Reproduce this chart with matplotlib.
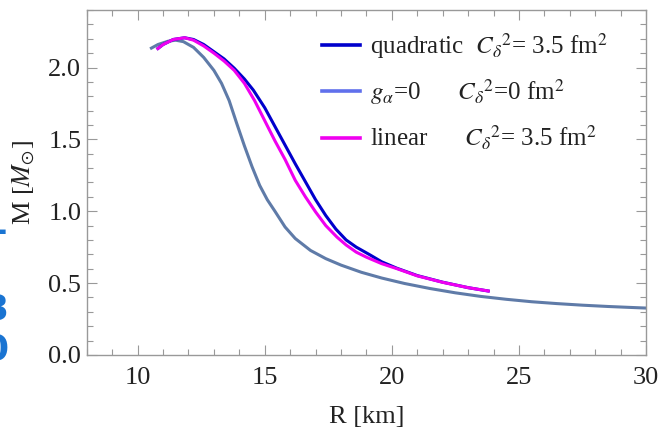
import matplotlib
matplotlib.use("Agg")
import matplotlib.pyplot as plt
from matplotlib.lines import Line2D
from matplotlib.ticker import MultipleLocator, FormatStrFormatter

plt.rcParams['font.family'] = ['Liberation Serif', 'DejaVu Serif']
plt.rcParams['mathtext.fontset'] = 'stix'

# g_alpha = 0, C_delta^2 = 0
R_g = [10.49, 10.8, 11.2, 11.5, 11.8, 12.2, 12.6, 13.0, 13.3, 13.6, 13.9, 14.2, 14.5,
       14.8, 15.1, 15.4, 15.8, 16.2, 16.8, 17.4, 18.0, 18.8, 19.6, 20.5, 21.5, 22.5,
       23.5, 24.5, 25.5, 26.5, 27.5, 28.5, 29.3, 30.0]
M_g = [2.13, 2.16, 2.183, 2.19, 2.18, 2.14, 2.07, 1.98, 1.89, 1.77, 1.61, 1.455, 1.31,
       1.18, 1.08, 1.0, 0.89, 0.81, 0.727, 0.67, 0.625, 0.575, 0.535, 0.497, 0.462, 0.432,
       0.407, 0.387, 0.37, 0.357, 0.346, 0.337, 0.331, 0.326]

# quadratic, C_delta^2 = 3.5 fm^2
R_q = [10.75, 11.0, 11.4, 11.85, 12.2, 12.6, 13.0, 13.4, 13.8, 14.2, 14.55, 15.0, 15.4,
       15.8, 16.2, 16.6, 17.0, 17.4, 17.8, 18.2, 18.6, 19.15, 19.6, 20.2, 21.0, 22.0,
       23.0, 23.85]
M_q = [2.126, 2.16, 2.195, 2.207, 2.195, 2.16, 2.11, 2.06, 1.995, 1.92, 1.843, 1.72,
       1.59, 1.46, 1.33, 1.205, 1.08, 0.97, 0.875, 0.80, 0.75, 0.695, 0.648, 0.603,
       0.552, 0.506, 0.468, 0.443]

# linear, C_delta^2 = 3.5 fm^2
R_l = [10.75, 11.0, 11.4, 11.85, 12.2, 12.6, 13.0, 13.4, 13.8, 14.2, 14.6, 15.0, 15.4,
       15.8, 16.2, 16.6, 17.0, 17.4, 17.84, 18.2, 18.6, 19.0, 19.6, 20.2, 21.0, 22.0,
       23.0, 23.85]
M_l = [2.126, 2.16, 2.195, 2.207, 2.19, 2.15, 2.10, 2.045, 1.98, 1.89, 1.77, 1.63,
       1.49, 1.36, 1.215, 1.10, 0.995, 0.90, 0.82, 0.765, 0.715, 0.68, 0.635, 0.60,
       0.55, 0.505, 0.468, 0.443]

labels = [r"quadratic  $C_\delta{}^2$= 3.5 fm$^2$",
          r"$g_\alpha$=0      $C_\delta{}^2$=0 fm$^2$",
          r"linear      $C_\delta{}^2$= 3.5 fm$^2$"]

c_q = '#0000cc'
c_g = '#5f7ba8'
c_g_leg = '#6070ec'
c_l = '#f000f0'

fig = plt.figure(figsize=(6.64, 4.36), dpi=100)
ax = fig.add_axes([0.1307, 0.186, 0.8423, 0.791])

kw = dict(lw=2.2, solid_joinstyle='round', solid_capstyle='butt')
ax.plot(R_g, M_g, color=c_g, **kw)
ax.plot(R_q, M_q, color=c_q, **kw)
ax.plot(R_l, M_l, color=c_l, **kw)

ax.set_xlim(8, 30)
ax.set_ylim(0, 2.4)
ax.xaxis.set_major_locator(MultipleLocator(5))
ax.xaxis.set_minor_locator(MultipleLocator(1))
ax.yaxis.set_major_locator(MultipleLocator(0.5))
ax.yaxis.set_minor_locator(MultipleLocator(0.1))
ax.xaxis.set_major_formatter(FormatStrFormatter('%d'))
ax.yaxis.set_major_formatter(FormatStrFormatter('%.1f'))

for s in ax.spines.values():
    s.set_color('#999999')
    s.set_linewidth(1.0)
ax.tick_params(which='both', direction='in', top=True, right=True, color='#999999',
               labelsize=19, labelcolor='#222222', width=0.8)
ax.tick_params(which='major', length=7)
ax.tick_params(which='minor', length=4)
ax.tick_params(axis='x', which='major', pad=9)
ax.tick_params(axis='y', which='major', pad=4)

ax.set_xlabel("R [km]", fontsize=19, color='#222222', labelpad=12)
ax.set_ylabel(r"M [$M_{\odot}$]", fontsize=19, color='#222222', labelpad=8)

handles = [Line2D([], [], color=c_q, lw=2.6),
           Line2D([], [], color=c_g_leg, lw=2.6),
           Line2D([], [], color=c_l, lw=2.6)]
leg = ax.legend(handles, labels, loc='upper left', bbox_to_anchor=(0.383, 1.0),
                frameon=False, fontsize=18, handlelength=1.5, handletextpad=0.4,
                labelspacing=0.65, labelcolor='#222222', borderaxespad=0.45)

# cropped blue fragments at the left edge of the source page
for ch, yy in [("1", 1 - 224 / 436), ("3", 1 - 310 / 436), ("0", 1 - 350 / 436)]:
    fig.text(-0.025, yy, ch, color='#1a74d2', fontsize=26, fontweight='bold',
             family='DejaVu Sans', va='center', ha='left')

fig.savefig("out.png", dpi=100)
